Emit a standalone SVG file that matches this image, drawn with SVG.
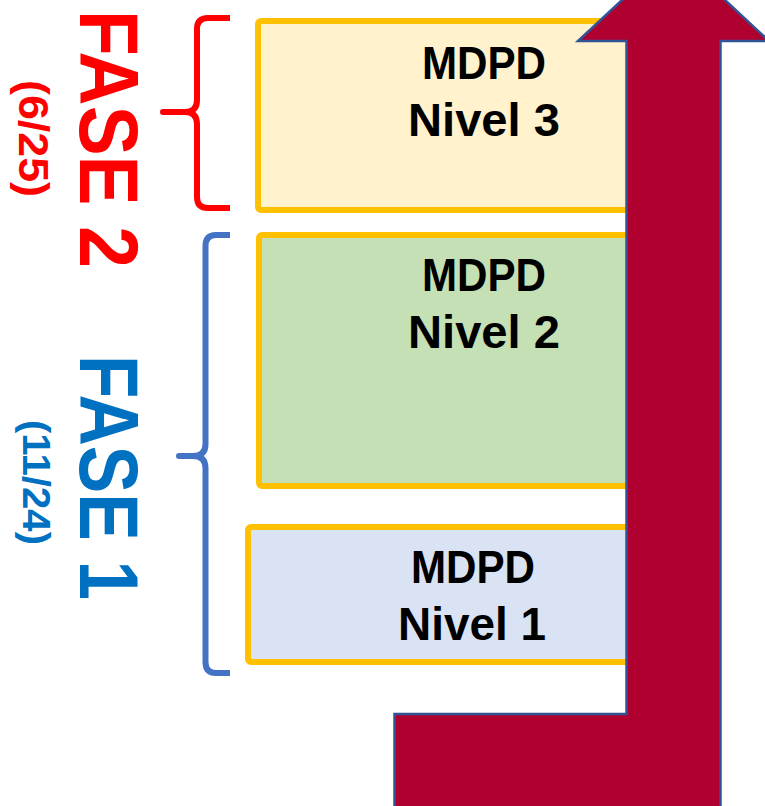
<svg xmlns="http://www.w3.org/2000/svg" width="765" height="806" viewBox="0 0 765 806">
<style>
.box{stroke:#FFC000;stroke-width:6}
.lbl{font-family:"Liberation Sans",Arial,sans-serif;font-weight:bold;font-size:47px;fill:#000;text-anchor:middle}
.fase{font-family:"Liberation Sans",Arial,sans-serif;font-weight:bold;font-size:84px}
.date{font-family:"Liberation Sans",Arial,sans-serif;font-weight:bold}
.brace{fill:none;stroke-width:6;stroke-linejoin:round}
</style>
<rect width="765" height="806" fill="#FFFFFF"/>
<g id="nivel3">
<rect class="box" x="258" y="21" width="400" height="189" rx="3" fill="#FFF2CC"/>
<text class="lbl" x="484" y="79" textLength="124" lengthAdjust="spacingAndGlyphs">MDPD</text>
<text class="lbl" x="484" y="136" textLength="152" lengthAdjust="spacingAndGlyphs">Nivel 3</text>
</g>
<g id="nivel2">
<rect class="box" x="259" y="235" width="400" height="251" rx="3" fill="#C5E0B4"/>
<text class="lbl" x="484" y="291" textLength="124" lengthAdjust="spacingAndGlyphs">MDPD</text>
<text class="lbl" x="484" y="348" textLength="152" lengthAdjust="spacingAndGlyphs">Nivel 2</text>
</g>
<g id="nivel1">
<rect class="box" x="248" y="527" width="410" height="135" rx="3" fill="#DAE3F3"/>
<text class="lbl" x="473" y="583" textLength="124" lengthAdjust="spacingAndGlyphs">MDPD</text>
<text class="lbl" x="472" y="640" textLength="148" lengthAdjust="spacingAndGlyphs">Nivel 1</text>
</g>
<g id="arrow">
<polygon points="394.5,812 394.5,714 626.5,714 626.5,41 578,41 673.5,-48 769,41 720.5,41 720.5,812" fill="#B00030" stroke="#2F5597" stroke-width="2.5"/>
</g>
<g id="fase2">
<path class="brace" stroke="#FF0000" d="M230,18 H208 Q197,18 197,29 V100 Q197,112 185,112 H163 H185 Q197,112 197,124 V197 Q197,208 208,208 H230"/>
<text class="fase" fill="#FF0000" transform="translate(80,10) rotate(90)" textLength="258" lengthAdjust="spacingAndGlyphs">FASE 2</text>
<text class="date" fill="#FF0000" font-size="42" transform="translate(19,80) rotate(90)" textLength="117" lengthAdjust="spacingAndGlyphs">(6/25)</text>
</g>
<g id="fase1">
<path class="brace" stroke="#4472C4" d="M230,235 H216 Q205.5,235 205.5,246 V444 Q205.5,456 193,456 H179 H193 Q205.5,456 205.5,468 V662 Q205.5,673 216,673 H230"/>
<text class="fase" fill="#0070C0" transform="translate(80,355) rotate(90)" textLength="245" lengthAdjust="spacingAndGlyphs">FASE 1</text>
<text class="date" fill="#0070C0" font-size="39" transform="translate(23,420) rotate(90)" textLength="125" lengthAdjust="spacingAndGlyphs">(11/24)</text>
</g>
</svg>
